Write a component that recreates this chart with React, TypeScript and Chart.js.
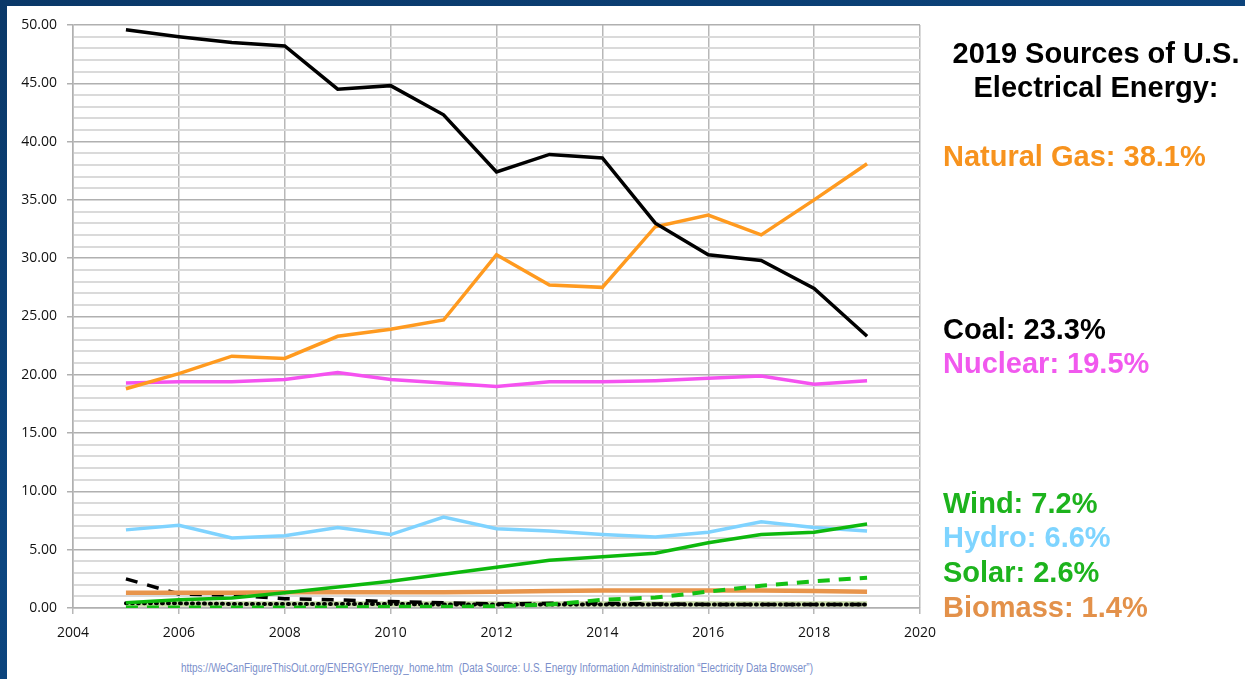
import React, { useEffect, useRef } from 'react';
import { Chart, registerables } from 'chart.js';

Chart.register(...registerables);

const years = [2005, 2006, 2007, 2008, 2009, 2010, 2011, 2012, 2013, 2014, 2015, 2016, 2017, 2018, 2019];
const coal = [49.6, 49.0, 48.5, 48.2, 44.5, 44.8, 42.3, 37.4, 38.9, 38.6, 33.0, 30.3, 29.8, 27.4, 23.3];
const naturalGas = [18.8, 20.1, 21.6, 21.4, 23.3, 23.9, 24.7, 30.3, 27.7, 27.5, 32.7, 33.7, 32.0, 35.0, 38.1];
const nuclear = [19.3, 19.4, 19.4, 19.6, 20.2, 19.6, 19.3, 19.0, 19.4, 19.4, 19.5, 19.7, 19.9, 19.2, 19.5];
const hydro = [6.7, 7.1, 6.0, 6.2, 6.9, 6.3, 7.8, 6.8, 6.6, 6.3, 6.1, 6.5, 7.4, 6.9, 6.6];
const wind = [0.45, 0.7, 0.85, 1.3, 1.8, 2.3, 2.9, 3.5, 4.1, 4.4, 4.7, 5.6, 6.3, 6.5, 7.2];
const solar = [0.05, 0.05, 0.05, 0.05, 0.05, 0.1, 0.1, 0.15, 0.3, 0.7, 0.9, 1.4, 1.9, 2.3, 2.6];
const biomass = [1.3, 1.3, 1.3, 1.35, 1.35, 1.35, 1.35, 1.4, 1.45, 1.5, 1.5, 1.5, 1.5, 1.45, 1.4];
const petroleum = [2.5, 1.2, 1.1, 0.8, 0.7, 0.55, 0.45, 0.35, 0.4, 0.4, 0.35, 0.3, 0.3, 0.3, 0.3];
const otherGases = [0.4, 0.4, 0.35, 0.35, 0.35, 0.35, 0.3, 0.3, 0.3, 0.3, 0.3, 0.3, 0.3, 0.3, 0.3];
const geothermal = [0.35, 0.35, 0.35, 0.35, 0.35, 0.35, 0.35, 0.35, 0.35, 0.35, 0.35, 0.35, 0.35, 0.35, 0.35];

const xTicks = { min: 2004, max: 2020, step: 2 };
const yTicks = { min: 0, max: 50, step: 1, labelEvery: 5 };

const titleLines = ['2019 Sources of U.S.', 'Electrical Energy:'];
const shareLabels = [
  { text: 'Natural Gas: 38.1%', color: '#F7931E', baseline: 166 },
  { text: 'Coal: 23.3%', color: '#000000', baseline: 339 },
  { text: 'Nuclear: 19.5%', color: '#F159EE', baseline: 373 },
  { text: 'Wind: 7.2%', color: '#1DB31D', baseline: 513 },
  { text: 'Hydro: 6.6%', color: '#7ED4FF', baseline: 547 },
  { text: 'Solar: 2.6%', color: '#1DB31D', baseline: 582 },
  { text: 'Biomass: 1.4%', color: '#E3914A', baseline: 617 },
];
const footnote =
  'https://WeCanFigureThisOut.org/ENERGY/Energy_home.htm  (Data Source: U.S. Energy Information Administration \u201cElectricity Data Browser\u201d)';

const pts = (arr: number[]) => arr.map((v, i) => ({ x: years[i], y: v }));

export default function App() {
  const ref = useRef<HTMLCanvasElement>(null);

  useEffect(() => {
    if (!ref.current) return;
    const tickFont = { family: '"Open Sans", "Liberation Sans", sans-serif', size: 14 };
    const chart = new Chart(ref.current, {
      type: 'line',
      data: {
        datasets: [
          { label: 'Coal', data: pts(coal), borderColor: '#000000', borderWidth: 3.5 },
          { label: 'Natural Gas', data: pts(naturalGas), borderColor: '#FF9A1F', borderWidth: 3.5 },
          { label: 'Nuclear', data: pts(nuclear), borderColor: '#F552F0', borderWidth: 3.5 },
          { label: 'Wind', data: pts(wind), borderColor: '#0DB80D', borderWidth: 3.5 },
          { label: 'Hydro', data: pts(hydro), borderColor: '#7FD3FF', borderWidth: 3.5 },
          { label: 'Solar', data: pts(solar), borderColor: '#14C014', borderWidth: 4, borderDash: [12, 9] },
          { label: 'Biomass', data: pts(biomass), borderColor: '#E8954C', borderWidth: 4.5 },
          { label: 'Petroleum', data: pts(petroleum), borderColor: '#000000', borderWidth: 3.5, borderDash: [12, 10] },
          { label: 'Other Gases', data: pts(otherGases), borderColor: '#000000', borderWidth: 4, borderDash: [1, 5], borderCapStyle: 'round' },
          { label: 'Geothermal', data: pts(geothermal), borderColor: '#C8DBA8', borderWidth: 5.5 },
        ] as any,
      },
      options: {
        animation: false,
        responsive: false,
        maintainAspectRatio: false,
        layout: { padding: { top: 25, right: 40, left: 0, bottom: 0 } },
        plugins: { legend: { display: false }, tooltip: { enabled: false } },
        elements: { point: { radius: 0 }, line: { tension: 0 } },
        scales: {
          x: {
            type: 'linear',
            min: xTicks.min,
            max: xTicks.max,
            ticks: {
              stepSize: xTicks.step,
              padding: 11,
              font: tickFont,
              color: '#111111',
              callback: (v: any) => String(v),
            },
            grid: { color: '#b8b8b8', lineWidth: 1.5, tickLength: 6 },
            border: { color: '#b0b0b0', width: 1.5 },
            afterFit: (s: any) => {
              s.height = 52;
            },
          },
          y: {
            min: yTicks.min,
            max: yTicks.max,
            ticks: {
              stepSize: yTicks.step,
              autoSkip: false,
              padding: 10,
              font: tickFont,
              color: '#111111',
              callback: (v: any) => (Number(v) % yTicks.labelEvery === 0 ? Number(v).toFixed(2) : ''),
            },
            grid: {
              color: (ctx: any) => (ctx.tick && ctx.tick.value % yTicks.labelEvery === 0 ? '#b0b0b0' : '#dadada'),
              tickColor: (ctx: any) => (ctx.tick && ctx.tick.value % yTicks.labelEvery === 0 ? '#b0b0b0' : 'rgba(0,0,0,0)'),
              lineWidth: (ctx: any) => (ctx.tick && ctx.tick.value % yTicks.labelEvery === 0 ? 1.5 : 2),
              tickLength: 6,
            },
            border: { color: '#b0b0b0', width: 1.5 },
            afterFit: (s: any) => {
              s.width = 73;
            },
          },
        },
      } as any,
    });
    return () => chart.destroy();
  }, []);

  const bigFont = '"Liberation Sans", Arial, Helvetica, sans-serif';
  const asc = 24.5;

  return (
    <div
      style={{
        position: 'fixed',
        left: 0,
        top: 0,
        width: 1245,
        height: 679,
        overflow: 'hidden',
        background: 'linear-gradient(160deg, #0a3868 0%, #0c4680 50%, #0a3b70 100%)',
      }}
    >
      <div
        style={{
          position: 'absolute',
          left: 7,
          top: 6,
          width: 1238,
          height: 673,
          background: '#ffffff',
        }}
      />
      <canvas
        ref={ref}
        width={960}
        height={660}
        style={{ position: 'absolute', left: 0, top: 0, width: 960, height: 660 }}
      />
      {titleLines.map((t, i) => (
        <div
          key={t}
          style={{
            position: 'absolute',
            left: 946,
            width: 300,
            top: 63 + i * 34 - asc,
            textAlign: 'center',
            fontFamily: bigFont,
            fontWeight: 'bold',
            fontSize: 29,
            lineHeight: '29px',
            color: '#000',
            whiteSpace: 'nowrap',
          }}
        >
          {t}
        </div>
      ))}
      {shareLabels.map((s) => (
        <div
          key={s.text}
          style={{
            position: 'absolute',
            left: 943,
            top: s.baseline - asc,
            fontFamily: bigFont,
            fontWeight: 'bold',
            fontSize: 29,
            lineHeight: '29px',
            color: s.color,
            whiteSpace: 'nowrap',
          }}
        >
          {s.text}
        </div>
      ))}
      <div
        style={{
          position: 'absolute',
          left: 181,
          top: 661,
          fontFamily: '"Liberation Sans", Arial, sans-serif',
          fontSize: 12,
          lineHeight: '14px',
          color: '#7B8FCB',
          whiteSpace: 'pre',
          transform: 'scaleX(0.83)',
          transformOrigin: '0 0',
        }}
      >
        {footnote}
      </div>
    </div>
  );
}
